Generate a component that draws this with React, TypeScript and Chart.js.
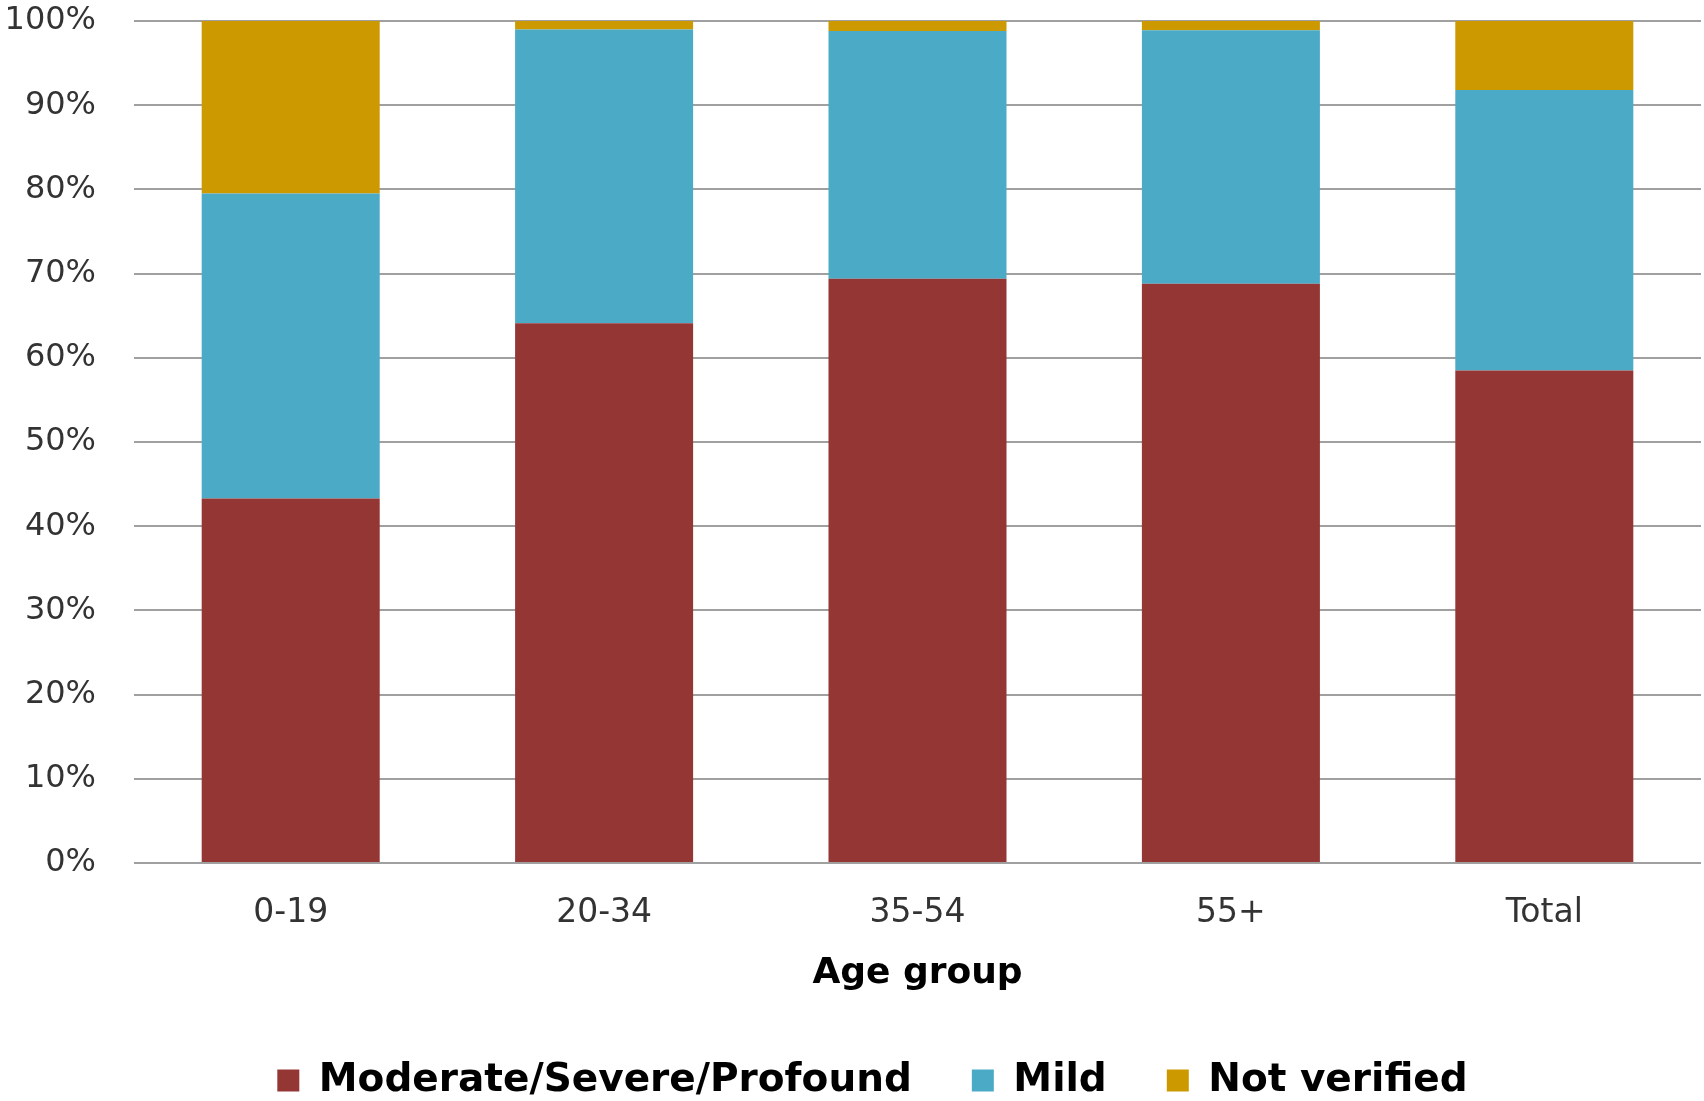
import React, { useEffect, useRef } from "react";
import { Chart, registerables } from "chart.js";

Chart.register(...registerables);

const categories = ["0-19", "20-34", "35-54", "55+", "Total"];
const moderateSevereProfound = [43.3, 64.1, 69.4, 68.8, 58.5];
const mild = [36.2, 34.9, 29.4, 30.1, 33.3];
const notVerified = [20.5, 1.0, 1.2, 1.1, 8.2];
const yTickLabelSuffix = "%";
const xAxisTitle = "Age group";
const seriesNames = ["Moderate/Severe/Profound", "Mild", "Not verified"];
const seriesColors = ["#943634", "#4BAAC6", "#CC9900"];

const legendShift = {
  id: "legendShift",
  afterLayout(chart: any) {
    if (chart.legend) {
      chart.legend.left = chart.legend.left + 44;
    }
  },
};

export default function App() {
  const canvasRef = useRef<HTMLCanvasElement | null>(null);

  useEffect(() => {
    document.body.style.margin = "0";
    const canvas = canvasRef.current;
    if (!canvas) return;
    const chart = new Chart(canvas, {
      type: "bar",
      data: {
        labels: categories,
        datasets: [
          { label: seriesNames[0], data: moderateSevereProfound, backgroundColor: seriesColors[0] },
          { label: seriesNames[1], data: mild, backgroundColor: seriesColors[1] },
          { label: seriesNames[2], data: notVerified, backgroundColor: seriesColors[2] },
        ],
      },
      options: {
        responsive: false,
        animation: false,
        devicePixelRatio: 1,
        datasets: {
          bar: { categoryPercentage: 1, barPercentage: 0.568, borderWidth: 0 },
        },
        layout: { padding: { left: 0, right: 3, top: 21, bottom: 0 } },
        scales: {
          x: {
            stacked: true,
            grid: { display: false, drawTicks: false },
            border: { display: false },
            ticks: {
              color: "#333333",
              font: { family: "DejaVu Sans", size: 33 },
              padding: 31,
            },
            title: {
              display: true,
              text: xAxisTitle,
              color: "#000000",
              font: { family: "DejaVu Sans", size: 36, weight: "bold" },
              padding: { top: 0, bottom: 6 },
            },
            afterFit: (scale: any) => {
              scale.height = 138;
            },
          },
          y: {
            stacked: true,
            min: 0,
            max: 100,
            grid: {
              color: "#A0A0A0",
              lineWidth: 2,
              drawTicks: true,
              tickLength: 38,
              tickColor: "rgba(0,0,0,0)",
            },
            border: { display: false },
            ticks: {
              stepSize: 10,
              color: "#333333",
              font: { family: "DejaVu Sans", size: 32 },
              padding: 0,
              callback: (v: any) => v + yTickLabelSuffix,
            },
            afterFit: (scale: any) => {
              scale.width = 134;
            },
          },
        },
        plugins: {
          legend: {
            position: "bottom",
            labels: {
              boxWidth: 22,
              boxHeight: 22,
              padding: 60,
              color: "#000000",
              font: { family: "DejaVu Sans", size: 39, weight: "bold" },
            },
          },
          tooltip: { enabled: false },
        },
      },
      plugins: [legendShift],
    });
    return () => chart.destroy();
  }, []);

  return (
    <div style={{ width: 1704, height: 1101, overflow: "hidden", background: "#fff" }}>
      <canvas ref={canvasRef} width={1704} height={1110} style={{ display: "block" }} />
    </div>
  );
}
